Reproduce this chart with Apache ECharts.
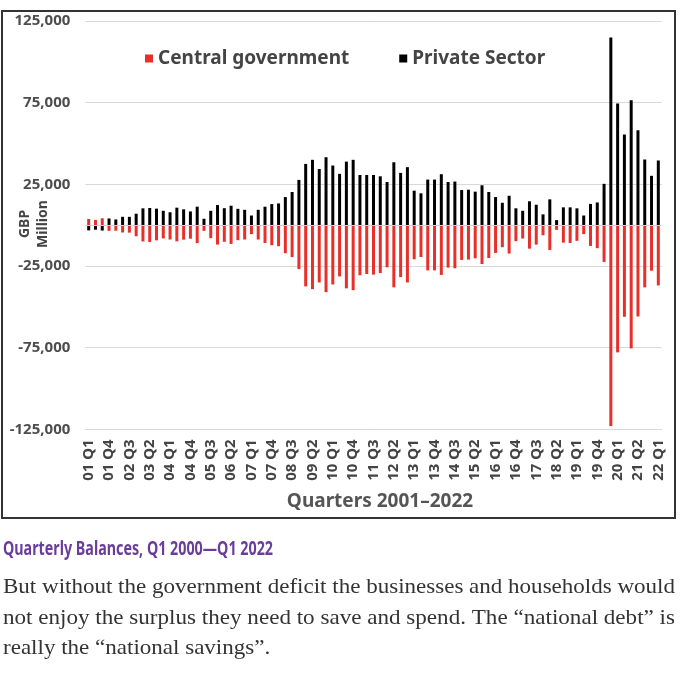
<!DOCTYPE html>
<html>
<head>
<meta charset="utf-8">
<script src="https://cdn.jsdelivr.net/npm/echarts@6/dist/echarts.min.js"></script>
<style>
  html, body { margin: 0; padding: 0; background: #fff; }
  #chart { width: 680px; height: 676px; }
</style>
</head>
<body>
<div id="chart"></div>
<script>
// labels shown under every third bar, as printed on the original
var tickLabels = ['01 Q1', '01 Q4', '02 Q3', '03 Q2', '04 Q1', '04 Q4', '05 Q3', '06 Q2',
    '07 Q1', '07 Q4', '08 Q3', '09 Q2', '10 Q1', '10 Q4', '11 Q3', '12 Q2', '13 Q1', '13 Q4',
    '14 Q3', '15 Q2', '16 Q1', '16 Q4', '17 Q3', '18 Q2', '19 Q1', '19 Q4', '20 Q1', '21 Q2', '22 Q1'];

// GBP million, 01 Q1 .. 22 Q1
var privateSector = [
    -3200, -2800, -3300, 4100, 3500, 5100, 5100, 7000, 10300, 10500,
    10100, 8800, 7900, 10700, 9700, 8400, 11300, 3900, 8800, 12300,
    10400, 11900, 10000, 9400, 5900, 9400, 11300, 12900, 13300, 17200,
    20300, 27700, 37500, 40000, 34400, 41600, 36500, 31400, 38900, 40000,
    30700, 30700, 30700, 29900, 26400, 38500, 32000, 35500, 21100, 19500,
    27900, 27900, 31200, 26400, 26700, 21500, 21700, 20500, 24400, 20300,
    17200, 13700, 18000, 10300, 8800, 14600, 12500, 6600, 15800, 3100,
    10900, 10900, 10300, 5900, 13000, 13900, 25300, 114900, 74500, 55500,
    76500, 58100, 40200, 30200, 39600
];
var centralGovernment = [
    3800, 3200, 4200, -3500, -3400, -4500, -4600, -6800, -10000, -10300,
    -9300, -8100, -8800, -9900, -8900, -8300, -11000, -3500, -8000, -11900,
    -10200, -11500, -9200, -8800, -5500, -8800, -10900, -12300, -12900, -17200,
    -19500, -26900, -37500, -39200, -35100, -41000, -36300, -31400, -38700, -39800,
    -30700, -29900, -30300, -29300, -25800, -38100, -31800, -35100, -20900, -19500,
    -27700, -27700, -30500, -26000, -26400, -21300, -21100, -20300, -23800, -20100,
    -17000, -13500, -17400, -9800, -8200, -14400, -11900, -6200, -15200, -2900,
    -10700, -10900, -9600, -5500, -12700, -14100, -22500, -123000, -77900, -56100,
    -75500, -55900, -38100, -27900, -36900
];

var captionText = 'Quarterly Balances, Q1 2000\u2014Q1 2022';
var bodyLines = [
    'But without the government deficit the businesses and households would',
    'not enjoy the surplus they need to save and spend. The \u201cnational debt\u201d is',
    'really the \u201cnational savings\u201d.'
];

var quarters = [];
for (var yr = 1; yr <= 22; yr++) {
    for (var q = 1; q <= 4; q++) {
        if (yr === 22 && q > 1) break;
        quarters.push((yr < 10 ? '0' : '') + yr + ' Q' + q);
    }
}

var sans = '"Noto Sans", "Open Sans", sans-serif';
var serif = '"Liberation Serif", "DejaVu Serif", serif';

// horizontal squeeze so the wide fallback fonts fill the same width as the original
var measureCtx = document.createElement('canvas').getContext('2d');
var fitScale = function(text, font, width) {
    measureCtx.font = font;
    return width / measureCtx.measureText(text).width;
};

var captionFont = 'bold 20px ' + sans;
var bodyFont = '21px ' + serif;
var line1Scale = fitScale(bodyLines[0], bodyFont, 672);
var bodyScales = [line1Scale, fitScale(bodyLines[1], bodyFont, 672), line1Scale];
var bodyY = [587, 618, 648];

var graphics = [{
    type: 'rect',
    shape: { x: 2, y: 11, width: 673, height: 507 },
    style: { fill: 'none', stroke: '#333', lineWidth: 2 },
    z: 10
}, {
    type: 'text',
    x: 380, y: 502,
    style: {
        text: 'Quarters 2001\u20132022', font: 'bold 19px ' + sans, fill: '#555',
        align: 'center', verticalAlign: 'middle'
    }
}, {
    type: 'text',
    x: 34, y: 224,
    rotation: Math.PI / 2,
    style: {
        text: 'GBP\nMillion', font: 'bold 14px ' + sans, fill: '#444',
        align: 'center', verticalAlign: 'middle', lineHeight: 18
    }
}, {
    type: 'text',
    x: 3, y: 549,
    scaleX: fitScale(captionText, captionFont, 270),
    style: {
        text: captionText, font: captionFont, fill: '#6a3d9a',
        align: 'left', verticalAlign: 'middle'
    }
}];
bodyLines.forEach(function(line, i) {
    graphics.push({
        type: 'text',
        x: 3, y: bodyY[i],
        scaleX: bodyScales[i],
        style: { text: line, font: bodyFont, fill: '#333', align: 'left', verticalAlign: 'middle' }
    });
});

var chart = echarts.init(document.getElementById('chart'));
chart.setOption({
    backgroundColor: '#fff',
    animation: false,
    legend: {
        data: ['Central government', 'Private Sector'],
        left: 140, top: 44,
        icon: 'rect', itemWidth: 8, itemHeight: 8, itemGap: 50,
        textStyle: { fontFamily: sans, fontWeight: 'bold', fontSize: 19, color: '#444' }
    },
    grid: { left: 85.3, top: 21, width: 576.4, bottom: 246.7, containLabel: false },
    xAxis: {
        type: 'category',
        data: quarters,
        axisLine: { onZero: false, lineStyle: { color: '#d9d9d9' } },
        axisTick: { show: false },
        axisLabel: {
            interval: 2, rotate: 90, margin: 10,
            fontFamily: sans, fontWeight: 'bold', fontSize: 15, color: '#444',
            formatter: function(v, i) { return i % 3 === 0 ? tickLabels[i / 3] : ''; }
        }
    },
    yAxis: {
        type: 'value',
        min: -125000, max: 125000, interval: 50000,
        axisLine: { show: false },
        axisTick: { show: false },
        splitLine: { lineStyle: { color: '#d9d9d9' } },
        axisLabel: {
            margin: 15,
            fontFamily: sans, fontWeight: 'bold', fontSize: 15, color: '#4d4d4d',
            formatter: function(v) { return v.toLocaleString('en-US'); }
        }
    },
    series: [{
        name: 'Central government',
        type: 'bar',
        data: centralGovernment,
        barWidth: 3,
        barGap: '-100%',
        itemStyle: { color: '#e8302a' },
        markLine: {
            silent: true, symbol: 'none', label: { show: false },
            lineStyle: { color: '#d0d0d0', type: 'solid', width: 1 },
            data: [{ yAxis: 0 }]
        }
    }, {
        name: 'Private Sector',
        type: 'bar',
        data: privateSector,
        barWidth: 3,
        barGap: '-100%',
        itemStyle: { color: '#000' }
    }],
    graphic: graphics
});
</script>
</body>
</html>
